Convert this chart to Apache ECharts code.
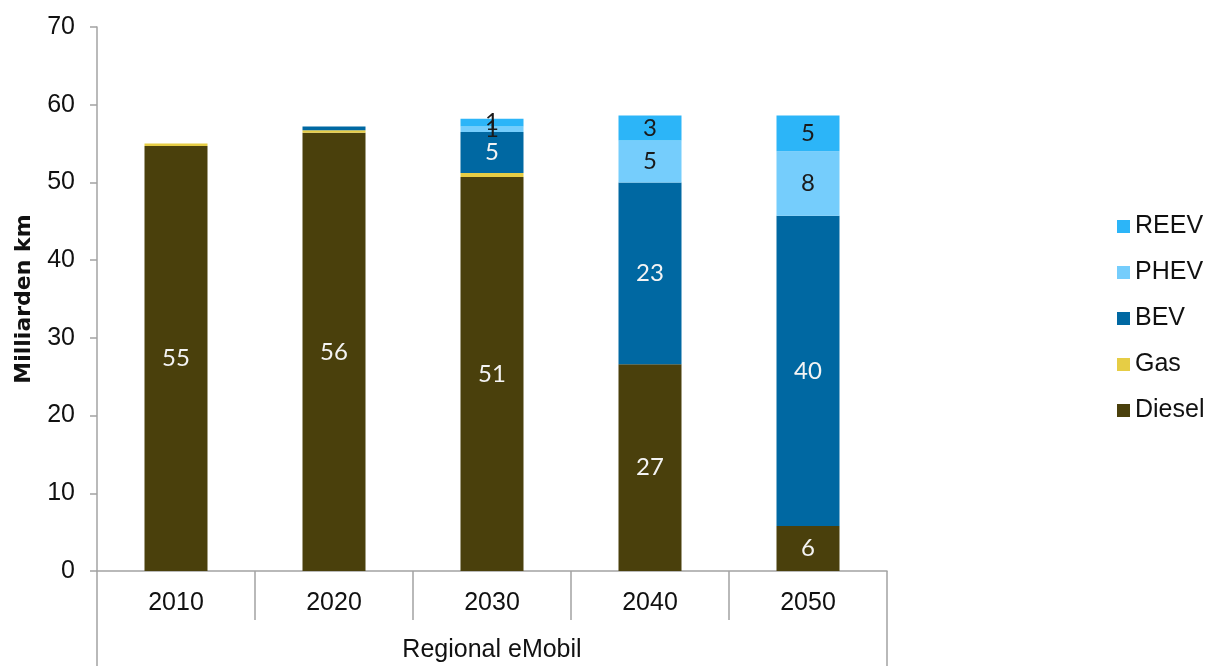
<!DOCTYPE html>
<html>
<head>
<meta charset="utf-8">
<script src="https://cdn.jsdelivr.net/npm/echarts@6/dist/echarts.min.js"></script>
<style>
  html, body { margin: 0; padding: 0; background: #ffffff; }
  #chart { width: 1215px; height: 666px; }
</style>
</head>
<body>
<div id="chart"></div>
<script>
// Vehicle kilometres by drive type (billion km), scenario "Regional eMobil"
const years = ['2010', '2020', '2030', '2040', '2050'];
const groupLabel = ['Regional eMobil'];
const diesel = [54.7, 56.4, 50.7, 26.6, 5.8];
const gas    = [0.3, 0.3, 0.5, 0, 0];
const bev    = [0, 0.5, 5.3, 23.4, 39.9];
const phev   = [0, 0, 0.7, 5.4, 8.3];
const reev   = [0, 0, 1.0, 3.2, 4.6];
const yTicks = { min: 0, max: 70, interval: 10 };

const axisGray = '#a3a3a3';
const textFont = 'Liberation Sans, Arial, sans-serif';

function segLabel(color) {
  return {
    show: true,
    position: 'inside',
    color: color,
    fontFamily: 'Lato, Open Sans, sans-serif',
    fontSize: 24,
    formatter: p => (p.value >= 0.6 ? String(Math.round(p.value)) : '')
  };
}

function stackSeries(name, data, color, labelColor) {
  return {
    name: name,
    type: 'bar',
    stack: 'km',
    data: data,
    barWidth: 63,
    itemStyle: { color: color },
    label: labelColor ? segLabel(labelColor) : { show: false },
    emphasis: { disabled: true }
  };
}

const chart = echarts.init(document.getElementById('chart'), null, { renderer: 'canvas' });
chart.setOption({
  animation: false,
  backgroundColor: '#ffffff',
  grid: { left: 97, right: 328, top: 27, bottom: 95, containLabel: false, outerBoundsMode: 'none' },
  legend: {
    orient: 'vertical',
    left: 1112,
    top: 209,
    itemWidth: 13,
    itemHeight: 13,
    itemGap: 21,
    icon: 'rect',
    data: ['REEV', 'PHEV', 'BEV', 'Gas', 'Diesel'],
    textStyle: { fontFamily: textFont, fontSize: 25, color: '#111' }
  },
  xAxis: [
    {
      type: 'category',
      data: years,
      position: 'bottom',
      axisLine: { show: true, lineStyle: { color: axisGray, width: 1.5 } },
      axisTick: { show: true, interval: 0, length: 49, lineStyle: { color: axisGray, width: 1.5 } },
      axisLabel: { margin: 20, fontFamily: textFont, fontSize: 25, color: '#111' }
    },
    {
      type: 'category',
      data: groupLabel,
      position: 'bottom',
      offset: 49,
      axisLine: { show: false },
      axisTick: { show: true, interval: 0, length: 60, lineStyle: { color: axisGray, width: 1.5 } },
      axisLabel: { margin: 18, fontFamily: textFont, fontSize: 25, color: '#111' }
    }
  ],
  yAxis: {
    type: 'value',
    min: yTicks.min,
    max: yTicks.max,
    interval: yTicks.interval,
    name: 'Milliarden km',
    nameLocation: 'middle',
    nameRotate: 90,
    nameGap: 62,
    nameTextStyle: { fontFamily: 'DejaVu Sans, sans-serif', fontWeight: 'bold', fontSize: 22, color: '#111' },
    axisLine: { show: true, lineStyle: { color: axisGray, width: 1.5 } },
    axisTick: { show: true, inside: false, length: 7, lineStyle: { color: axisGray, width: 1.5 } },
    splitLine: { show: false },
    axisLabel: { margin: 22, fontFamily: textFont, fontSize: 25, color: '#111' }
  },
  series: [
    stackSeries('Diesel', diesel, '#4a400c', '#f4f4f4'),
    stackSeries('Gas', gas, '#e6cd45', null),
    stackSeries('BEV', bev, '#0068a2', '#f4f4f4'),
    stackSeries('PHEV', phev, '#75cdfc', '#1a1a1a'),
    stackSeries('REEV', reev, '#2cb5f8', '#1a1a1a')
  ]
});
</script>
</body>
</html>
